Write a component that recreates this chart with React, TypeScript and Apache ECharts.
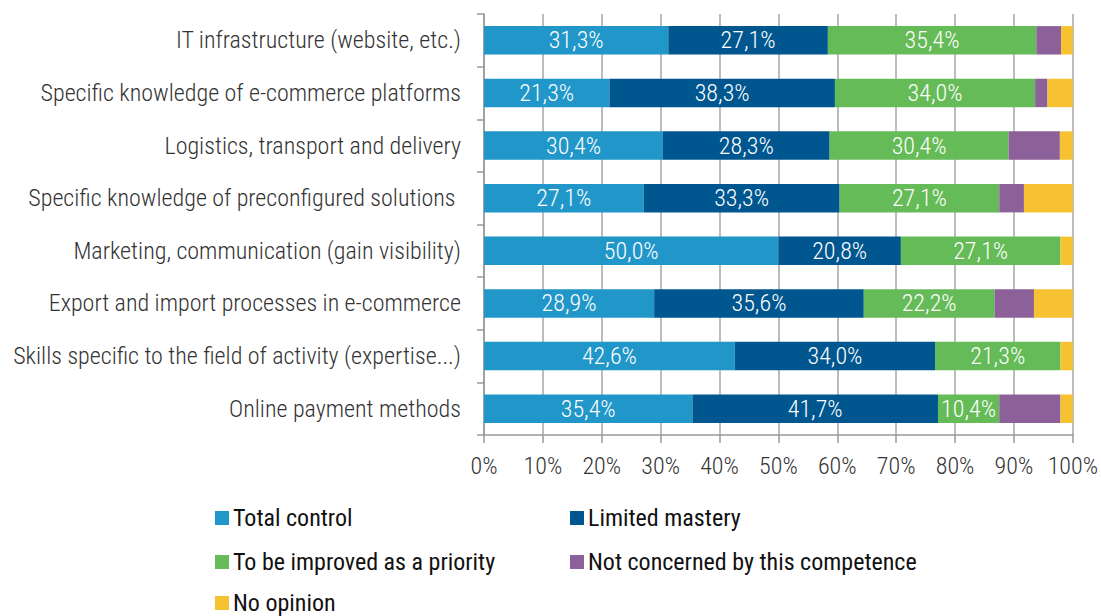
import React, { useEffect, useRef } from "react";
import * as echarts from "echarts";

const categories = [
  "IT infrastructure (website, etc.)",
  "Specific knowledge of e-commerce platforms",
  "Logistics, transport and delivery",
  "Specific knowledge of preconfigured solutions ",
  "Marketing, communication (gain visibility)",
  "Export and import processes in e-commerce",
  "Skills specific to the field of activity (expertise...)",
  "Online payment methods",
];

const totalControl = [31.3, 21.3, 30.4, 27.1, 50.0, 28.9, 42.6, 35.4];
const limitedMastery = [27.1, 38.3, 28.3, 33.3, 20.8, 35.6, 34.0, 41.7];
const toBeImproved = [35.4, 34.0, 30.4, 27.1, 27.1, 22.2, 21.3, 10.4];
const notConcerned = [4.2, 2.1, 8.7, 4.2, 0, 6.7, 0, 10.4];
const noOpinion = [2.1, 4.3, 2.2, 8.3, 2.1, 6.7, 2.1, 2.1];

const xTicks = [0, 10, 20, 30, 40, 50, 60, 70, 80, 90, 100];

const seriesNames = [
  "Total control",
  "Limited mastery",
  "To be improved as a priority",
  "Not concerned by this competence",
  "No opinion",
];
const colors = ["#2196C9", "#00568F", "#65BB57", "#8C6199", "#F6C232"];

const FONT = "'Roboto Condensed', 'Roboto', sans-serif";

// legend item positions (left, top) per series
const legendPos = [
  [215, 506],
  [570, 506],
  [215, 550],
  [570, 550],
  [215, 591],
];

export default function App() {
  const ref = useRef<HTMLDivElement>(null);
  useEffect(() => {
    if (!ref.current) return;
    const chart = echarts.init(ref.current, null, { renderer: "svg" });
    const datasets = [totalControl, limitedMastery, toBeImproved, notConcerned, noOpinion];
    const series = datasets.map((d, i) => ({
      name: seriesNames[i],
      type: "bar",
      stack: "all",
      barWidth: "54%",
      data: d,
      itemStyle: { color: colors[i] },
      label: {
        show: i < 3,
        position: "inside",
        color: "#ffffff",
        fontFamily: FONT,
        fontWeight: 300,
        fontSize: 24,
        formatter: (p: any) => p.value.toFixed(1).replace(".", ",") + "%",
      },
    }));
    const legends = seriesNames.map((n, i) => ({
      orient: "horizontal",
      left: legendPos[i][0],
      top: legendPos[i][1],
      padding: 0,
      itemWidth: 14,
      itemHeight: 14,
      icon: "rect",
      selectedMode: false,
      data: [n],
      textStyle: { fontFamily: FONT, fontSize: 24, color: "#111111", padding: [0, 0, 0, -1] },
    }));
    chart.setOption({
      animation: false,
      grid: { left: 484, right: 26, top: 14, bottom: 181, containLabel: false },
      xAxis: {
        type: "value",
        min: 0,
        max: 100,
        interval: 10,
        axisLine: { show: true, lineStyle: { color: "#999999", width: 1.5 } },
        axisTick: { show: true, length: 8, lineStyle: { color: "#999999", width: 1.5 } },
        splitLine: { show: true, lineStyle: { color: "#A6A6A6", width: 1.5 } },
        axisLabel: {
          color: "#333333",
          fontFamily: FONT,
          fontWeight: 300,
          fontSize: 24,
          margin: 19,
          formatter: (v: number) => (xTicks.includes(v) ? v + "%" : ""),
        },
      },
      yAxis: {
        type: "category",
        inverse: true,
        data: categories,
        axisLine: { show: true, lineStyle: { color: "#999999", width: 1.5 } },
        axisTick: { show: true, length: 7, lineStyle: { color: "#999999", width: 1.5 } },
        axisLabel: {
          color: "#333333",
          fontFamily: FONT,
          fontWeight: 300,
          fontSize: 24,
          margin: 23,
        },
      },
      legend: legends,
      series,
    });
    return () => chart.dispose();
  }, []);
  return <div ref={ref} style={{ width: 1101, height: 616, position: "absolute", left: 0, top: 0 }} />;
}
